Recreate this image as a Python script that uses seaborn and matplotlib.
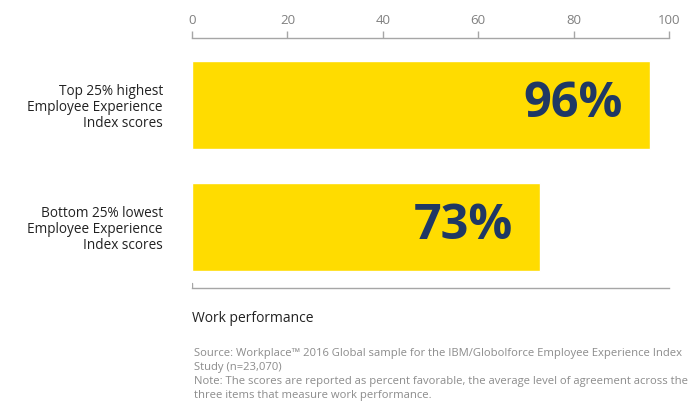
import matplotlib
matplotlib.use("Agg")
import matplotlib.pyplot as plt
import seaborn as sns
import pandas as pd

groups = ["Top 25% highest\nEmployee Experience\nIndex scores",
          "Bottom 25% lowest\nEmployee Experience\nIndex scores"]
scores = [96, 73]
x_ticks = [0, 20, 40, 60, 80, 100]

bar_color = "#FFDC00"
value_color = "#1F3864"
axis_gray = "#A6A6A6"

sns.set_theme(style="white")
plt.rcParams["font.family"] = ["Open Sans", "DejaVu Sans"]

df = pd.DataFrame({"group": groups, "score": scores})

fig = plt.figure(figsize=(7.0, 4.13), dpi=100)
ax = fig.add_axes([192 / 700, 1 - 288 / 413, (669 - 192) / 700, 250 / 413])

sns.barplot(data=df, x="score", y="group", color=bar_color, width=0.72,
            saturation=1, ax=ax)

ax.set_xlim(0, 100)
ax.set_ylim(1.5, -0.549)
ax.set_xticks(x_ticks)
ax.xaxis.tick_top()
ax.tick_params(axis="x", direction="out", length=5, width=1, color=axis_gray,
               labelcolor="#808080", labelsize=9.5, pad=3, top=True, bottom=False)
ax.tick_params(axis="y", length=0, labelsize=9.8, labelcolor="#222222", pad=21)
for lbl in ax.get_yticklabels():
    lbl.set_horizontalalignment("right")
    lbl.set_multialignment("right")
    lbl.set_linespacing(1.12)

for side in ["left", "right"]:
    ax.spines[side].set_visible(False)
for side in ["top", "bottom"]:
    ax.spines[side].set_visible(True)
    ax.spines[side].set_color(axis_gray)
    ax.spines[side].set_linewidth(1)
ax.axvline(0, ymin=0, ymax=0.02, color=axis_gray, lw=1)

ax.set_xlabel("")
ax.set_ylabel("")

for i, v in enumerate(scores):
    ax.text(v - 5.8, i, f"{v}%", ha="right", va="center", fontsize=35,
            fontweight="bold", color=value_color)

fig.text(192 / 700, 1 - 318 / 413, "Work performance", fontsize=10,
         color="#222222", va="center", ha="left")

note = ("Source: Workplace\u2122 2016 Global sample for the IBM/Globolforce Employee Experience Index\n"
        "Study (n=23,070)\n"
        "Note: The scores are reported as percent favorable, the average level of agreement across the\n"
        "three items that measure work performance.")
fig.text(194 / 700, 1 - 348 / 413, note, fontsize=8.1, color="#8C8C8C",
         va="top", ha="left", linespacing=1.38)

fig.savefig("out.png", dpi=100)
